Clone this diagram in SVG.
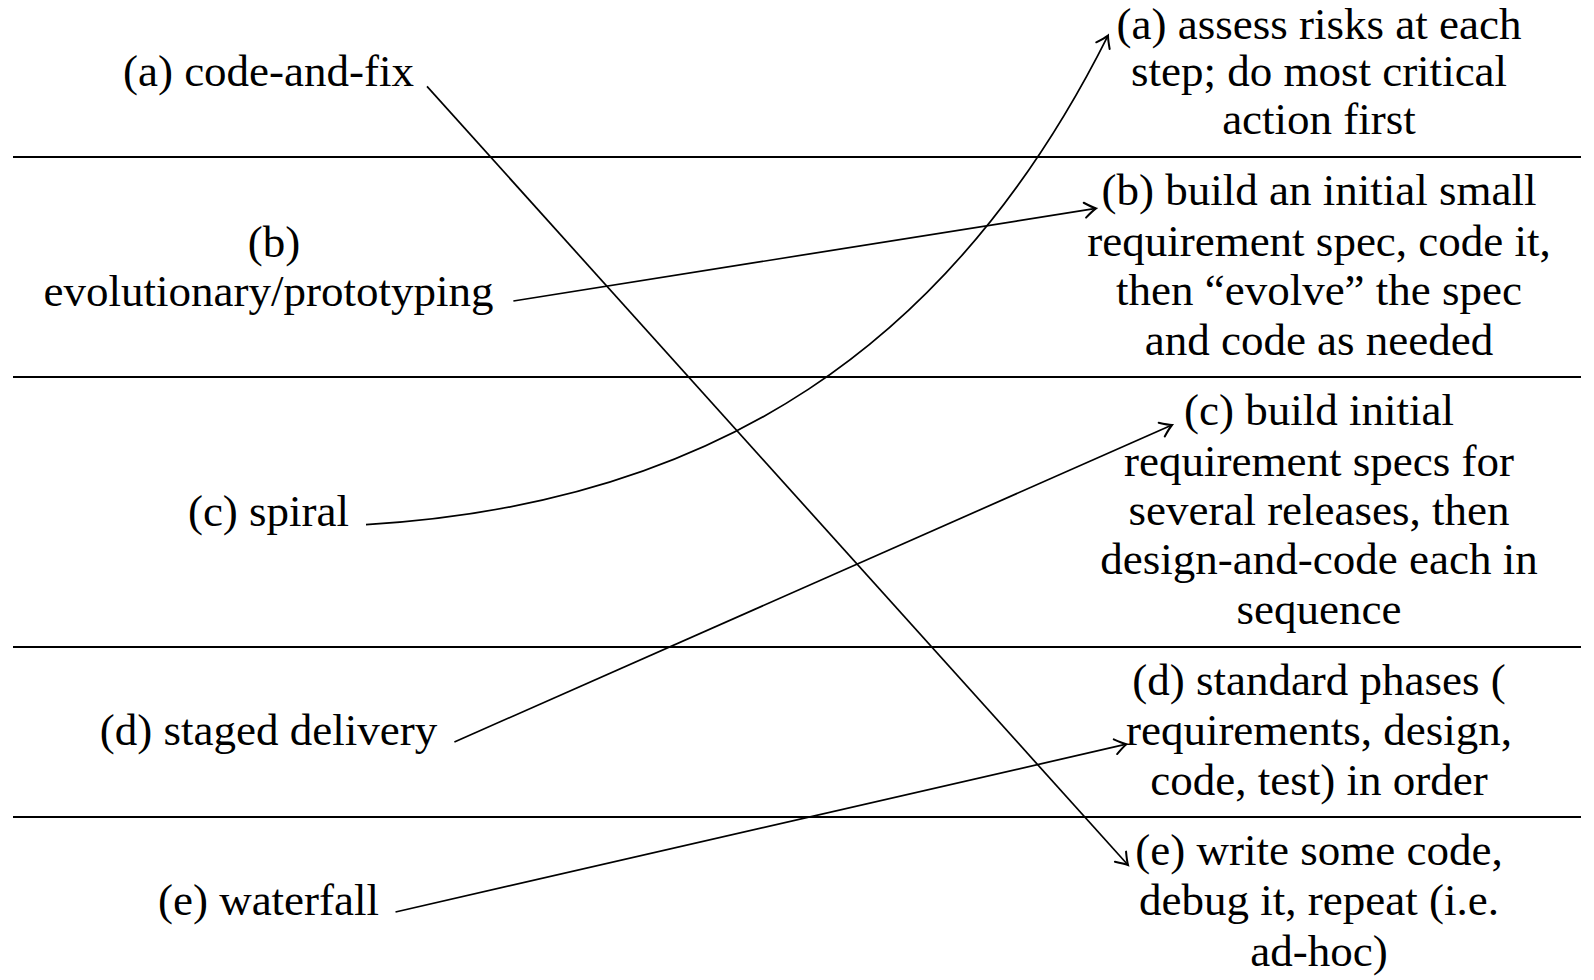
<svg xmlns="http://www.w3.org/2000/svg" width="1594" height="980" viewBox="0 0 1594 980">
<style>
text{font-family:"Liberation Serif","Times New Roman",serif;font-size:45px;fill:#000;text-anchor:middle}
.sep{stroke:#000;stroke-width:2;fill:none}
.conn{stroke:#000;stroke-width:1.7;fill:none;marker-end:url(#arr)}
</style>
<defs>
<marker id="arr" markerUnits="userSpaceOnUse" markerWidth="20" markerHeight="20" viewBox="-12 -8 14 16" refX="0" refY="0" orient="auto">
<path d="M-9,-6 Q-3,-1.5 0,0 Q-3,1.5 -9,6" fill="none" stroke="#000" stroke-width="1.6" stroke-linecap="round"/>
</marker>
</defs>
<rect width="1594" height="980" fill="#fff"/>
<g id="separators">
<line class="sep" x1="13" y1="157" x2="1581" y2="157"/>
<line class="sep" x1="13" y1="377" x2="1581" y2="377"/>
<line class="sep" x1="13" y1="647" x2="1581" y2="647"/>
<line class="sep" x1="13" y1="817" x2="1581" y2="817"/>
</g>
<g id="left-a"><text x="268.5" y="86">(a) code-and-fix</text></g>
<g id="left-b"><text x="274" y="257">(b)</text><text x="268.5" y="306">evolutionary/prototyping</text></g>
<g id="left-c"><text x="268.5" y="526">(c) spiral</text></g>
<g id="left-d"><text x="268.5" y="745">(d) staged delivery</text></g>
<g id="left-e"><text x="268.5" y="915">(e) waterfall</text></g>
<g id="right-a"><text x="1319" y="39">(a) assess risks at each</text><text x="1319" y="86">step; do most critical</text><text x="1319" y="134">action first</text></g>
<g id="right-b"><text x="1319" y="205">(b) build an initial small</text><text x="1319" y="256">requirement spec, code it,</text><text x="1319" y="305">then “evolve” the spec</text><text x="1319" y="355">and code as needed</text></g>
<g id="right-c"><text x="1319" y="425">(c) build initial</text><text x="1319" y="476">requirement specs for</text><text x="1319" y="525">several releases, then</text><text x="1319" y="574">design-and-code each in</text><text x="1319" y="624">sequence</text></g>
<g id="right-d"><text x="1319" y="695">(d) standard phases (</text><text x="1319" y="745">requirements, design,</text><text x="1319" y="795">code, test) in order</text></g>
<g id="right-e"><text x="1319" y="865">(e) write some code,</text><text x="1319" y="915">debug it, repeat (i.e.</text><text x="1319" y="966">ad-hoc)</text></g>
<g id="connectors">
<line class="conn" x1="427" y1="86.4" x2="1128" y2="865"/>
<line class="conn" x1="513.4" y1="301" x2="1096" y2="208.4"/>
<path class="conn" d="M366,524.6 C713,504 952,347 1108,35.6"/>
<line class="conn" x1="454.4" y1="742" x2="1172" y2="425"/>
<line class="conn" x1="395.5" y1="912" x2="1126.4" y2="744.2"/>
</g>
</svg>
